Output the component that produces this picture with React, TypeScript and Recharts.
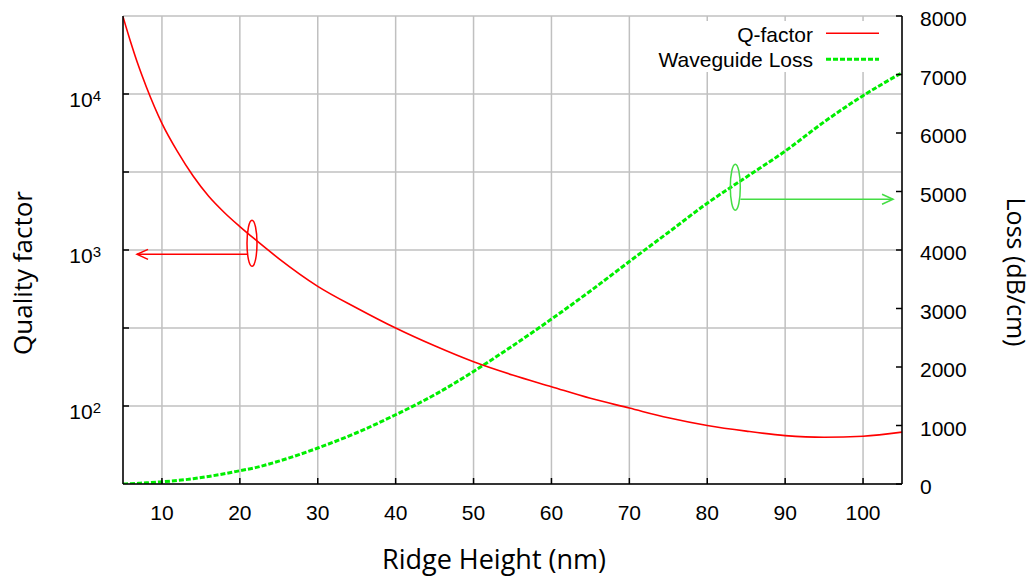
import React from 'react';
import {
  CartesianGrid,
  ComposedChart,
  Line,
  ReferenceDot,
  ReferenceLine,
  XAxis,
  YAxis,
} from 'recharts';

const heights = [5, 6, 7, 8, 10, 12, 14, 16, 18, 20, 22, 25, 30, 35, 40, 45, 50, 55, 60, 65, 70, 75, 80, 85, 90, 95, 100, 105];
const qFactor = [31300, 21400, 15100, 11100, 6490, 4270, 2980, 2210, 1740, 1413, 1164, 881, 585, 425, 316, 243, 192, 158, 133, 112, 97, 84, 75, 69, 64.6, 63, 64, 68];
const waveguideLoss = [0, 5, 12, 20, 39, 60, 90, 130, 175, 227, 280, 390, 615, 876, 1184, 1525, 1924, 2360, 2819, 3300, 3803, 4300, 4800, 5245, 5690, 6190, 6638, 7031];

const heightTicks = [10, 20, 30, 40, 50, 60, 70, 80, 90, 100];
const qTicks = [100, 316.228, 1000, 3162.28, 10000];
const lossTicks = [0, 1000, 2000, 3000, 4000, 5000, 6000, 7000, 8000];

const data = heights.map((h, i) => ({ h, q: qFactor[i], loss: waveguideLoss[i] }));

const TICK_FONT = '"Liberation Sans", Arial, sans-serif';
const TITLE_FONT = '"Open Sans", sans-serif';

const LeftTick = ({ x, y, payload }: any) => {
  const axisX = x + 22;
  const exp = Math.log10(payload.value);
  const decade = Math.abs(exp - Math.round(exp)) < 1e-6;
  return (
    <g>
      <line x1={axisX} x2={axisX + 6} y1={y} y2={y} stroke="#000" strokeWidth={1.5} />
      {decade && (
        <text x={x} y={y + 13} textAnchor="end" fontSize={21} fontFamily={TICK_FONT} fill="#000">
          10<tspan dy={-6} fontSize={15}>{Math.round(exp)}</tspan>
        </text>
      )}
    </g>
  );
};

const RightTick = ({ x, y, payload }: any) => {
  const axisX = x - 18;
  return (
    <g>
      <line x1={axisX - 6} x2={axisX} y1={y} y2={y} stroke="#000" strokeWidth={1.5} />
      <text x={x} y={y + 10} textAnchor="start" fontSize={21} fontFamily={TICK_FONT} fill="#000">
        {payload.value}
      </text>
    </g>
  );
};

const BottomTick = ({ x, y, payload }: any) => {
  const axisY = y - 36;
  return (
    <g>
      <line x1={x} x2={x} y1={axisY - 6} y2={axisY} stroke="#000" strokeWidth={1.5} />
      <text x={x} y={y} textAnchor="middle" fontSize={21} fontFamily={TICK_FONT} fill="#000">
        {payload.value}
      </text>
    </g>
  );
};

const TopTick = ({ x, y }: any) => (
  <line x1={x} x2={x} y1={y} y2={y + 6} stroke="#000" strokeWidth={1.5} />
);

const arrow = (color: string) => (p: any) => {
  const { x1, y1, x2, y2 } = p;
  const dir = Math.sign(x2 - x1) || 1;
  return (
    <g>
      <line x1={x1} y1={y1} x2={x2} y2={y2} stroke={color} strokeWidth={1.5} />
      <polyline
        points={`${x2 - dir * 11},${y2 - 5} ${x2},${y2} ${x2 - dir * 11},${y2 + 5}`}
        fill="none"
        stroke={color}
        strokeWidth={1.5}
      />
    </g>
  );
};

const ellipse = (color: string) => (p: any) => (
  <ellipse cx={p.cx} cy={p.cy} rx={5} ry={23} fill="none" stroke={color} strokeWidth={1.5} />
);

function Legend() {
  return (
    <div style={{ position: 'absolute', left: 645, top: 21, width: 245, height: 51, background: '#fff' }}>
      <svg width={245} height={51}>
        <text x={168} y={21.3} textAnchor="end" fontSize={21} fontFamily={TICK_FONT}>Q-factor</text>
        <line x1={181} x2={234} y1={12.3} y2={12.3} stroke="#ff0000" strokeWidth={1.6} />
        <text x={168} y={46.3} textAnchor="end" fontSize={21} fontFamily={TICK_FONT}>Waveguide Loss</text>
        <line x1={181} x2={234} y1={38.3} y2={38.3} stroke="#00ee00" strokeWidth={3} strokeDasharray="5 2" />
      </svg>
    </div>
  );
}

export default function App() {
  return (
    <div style={{ position: 'absolute', left: 0, top: 0, width: 1033, height: 576, background: '#fff' }}>
      <ComposedChart width={1033} height={576} data={data} margin={{ top: 16, right: 0, bottom: 0, left: 0 }}>
        <CartesianGrid xAxisId="bottom" yAxisId="left" stroke="#c0c0c0" strokeWidth={1.5} />
        <XAxis
          xAxisId="bottom"
          dataKey="h"
          type="number"
          domain={[5, 105]}
          ticks={heightTicks}
          allowDataOverflow
          height={92}
          tickSize={0}
          tickMargin={36}
          tickLine={false}
          tick={<BottomTick />}
          axisLine={{ stroke: '#000', strokeWidth: 1.5 }}
          label={{
            content: () => (
              <text x={494} y={569} textAnchor="middle" fontSize={27} fontFamily={TITLE_FONT} fill="#000">
                Ridge Height (nm)
              </text>
            ),
          }}
        />
        <XAxis
          xAxisId="top"
          orientation="top"
          dataKey="h"
          type="number"
          domain={[5, 105]}
          ticks={heightTicks}
          allowDataOverflow
          height={0}
          tickSize={0}
          tickMargin={0}
          tickLine={false}
          tick={<TopTick />}
          axisLine={{ stroke: '#000', strokeWidth: 1.5 }}
        />
        <YAxis
          yAxisId="left"
          scale="log"
          domain={[31.6228, 31622.8]}
          ticks={qTicks}
          allowDataOverflow
          width={123}
          tickSize={0}
          tickMargin={22}
          tickLine={false}
          tick={<LeftTick />}
          axisLine={{ stroke: '#000', strokeWidth: 1.5 }}
          label={{
            content: () => (
              <text
                x={32}
                y={273}
                transform="rotate(-90 32 273)"
                textAnchor="middle"
                fontSize={26}
                fontFamily={TITLE_FONT}
                fill="#000"
              >
                Quality factor
              </text>
            ),
          }}
        />
        <YAxis
          yAxisId="right"
          orientation="right"
          domain={[0, 8000]}
          ticks={lossTicks}
          allowDataOverflow
          width={131}
          tickSize={0}
          tickMargin={18}
          tickLine={false}
          tick={<RightTick />}
          axisLine={{ stroke: '#000', strokeWidth: 1.5 }}
          label={{
            content: () => (
              <text
                x={1007}
                y={272}
                transform="rotate(90 1007 272)"
                textAnchor="middle"
                fontSize={25}
                fontFamily={TITLE_FONT}
                fill="#000"
              >
                Loss (dB/cm)
              </text>
            ),
          }}
        />
        <Line
          xAxisId="bottom"
          yAxisId="right"
          type="monotone"
          dataKey="loss"
          stroke="#00ee00"
          strokeWidth={3}
          strokeDasharray="5 2"
          dot={false}
          isAnimationActive={false}
        />
        <Line
          xAxisId="bottom"
          yAxisId="left"
          type="monotone"
          dataKey="q"
          stroke="#ff0000"
          strokeWidth={1.6}
          dot={false}
          isAnimationActive={false}
        />
        <ReferenceDot xAxisId="bottom" yAxisId="left" x={21.56} y={1104} shape={ellipse('#ff0000')} />
        <ReferenceLine
          xAxisId="bottom"
          yAxisId="left"
          segment={[{ x: 20.92, y: 938 }, { x: 6.8, y: 938 }]}
          shape={arrow('#ff0000')}
        />
        <ReferenceDot xAxisId="bottom" yAxisId="right" x={83.6} y={5073} shape={ellipse('#44dd44')} />
        <ReferenceLine
          xAxisId="bottom"
          yAxisId="right"
          segment={[{ x: 84.25, y: 4868 }, { x: 103.85, y: 4868 }]}
          shape={arrow('#44dd44')}
        />
      </ComposedChart>
      <Legend />
    </div>
  );
}
